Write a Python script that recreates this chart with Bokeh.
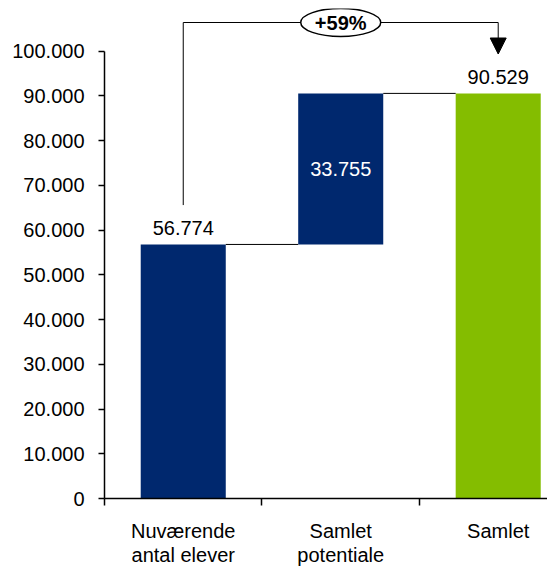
from bokeh.plotting import figure
from bokeh.models import Range1d, FixedTicker, Arrow, NormalHead
from bokeh.core.properties import value
from bokeh.embed import file_html
from bokeh.resources import INLINE

# ---- data ----
categories = ["Nuværende\nantal elever", "Samlet\npotentiale", "Samlet"]
current = 56774
potential = 33755
total = 90529
y_ticks = [0, 10000, 20000, 30000, 40000, 50000, 60000, 70000, 80000, 90000, 100000]
y_tick_labels = ["0", "10.000", "20.000", "30.000", "40.000", "50.000",
                 "60.000", "70.000", "80.000", "90.000", "100.000"]

NAVY = "#00286E"
GREEN = "#84BD00"
FONT = value("Liberation Sans")

def fmt(v):
    return f"{v:,}".replace(",", ".")

xs = [0, 1, 2]
bottoms = [0, current, 0]
tops = [current, current + potential, total]
colors = [NAVY, NAVY, GREEN]
bw = 0.54

p = figure(width=547, height=568, output_backend="svg", toolbar_location=None,
           x_range=Range1d(-0.5, 2.313), y_range=Range1d(0, 109500),
           min_border_left=104, min_border_right=0, min_border_top=8,
           min_border_bottom=70)
p.outline_line_color = None
p.xgrid.visible = False
p.ygrid.visible = False
p.background_fill_color = "white"
p.border_fill_color = "white"

p.vbar(x=xs, bottom=bottoms, top=tops, width=bw, fill_color=colors, line_color=None)

# connectors
p.segment(x0=[xs[0] + bw / 2, xs[1] + bw / 2], x1=[xs[1] - bw / 2, xs[2] - bw / 2],
          y0=[current, current + potential], y1=[current, current + potential],
          line_color="black", line_width=1)

# value labels
p.text(x=[xs[0], xs[2]], y=[current, total], text=[fmt(current), fmt(total)],
       text_align="center", text_baseline="bottom", y_offset=-9,
       text_font=FONT, text_font_size="20px", text_color="black")
p.text(x=[xs[1]], y=[current + potential / 2], text=[fmt(potential)],
       text_align="center", text_baseline="middle",
       text_font=FONT, text_font_size="20px", text_color="white")

# growth bracket
bracket_y = 106370
bracket_bottom = current + 8800
arrow_tip = 99330
p.line(x=[xs[0], xs[0], xs[2]], y=[bracket_bottom, bracket_y, bracket_y],
       line_color="black", line_width=1)
p.add_layout(Arrow(x_start=xs[2], y_start=bracket_y, x_end=xs[2], y_end=arrow_tip,
                   line_color="black", line_width=1,
                   end=NormalHead(size=16, fill_color="black", line_color="black")))
pct = round((total / current - 1) * 100)
p.ellipse(x=[xs[1]], y=[bracket_y], width=80, height=28,
          width_units="screen", height_units="screen",
          fill_color="white", line_color="black", line_width=1.5)
p.text(x=[xs[1]], y=[bracket_y], text=[f"+{pct}%"], text_align="center",
       text_baseline="middle", text_font=FONT, text_font_size="20px",
       text_font_style="bold", text_color="black")

# axes
xa = p.xaxis[0]
xa.ticker = FixedTicker(ticks=xs, minor_ticks=[-0.5, 0.5, 1.5])
xa.major_label_overrides = {x: c for x, c in zip(xs, categories)}
xa.major_tick_out = 0
xa.major_tick_in = 0
xa.minor_tick_out = 7
xa.minor_tick_in = 0
xa.minor_tick_line_color = "black"
xa.minor_tick_line_width = 1.5
xa.axis_line_width = 1.5
xa.axis_line_color = "black"
xa.major_label_standoff = 14
xa.major_label_text_font = "Liberation Sans"
xa.major_label_text_font_size = "20px"
xa.major_label_text_line_height = 1.1
xa.major_label_text_color = "black"

ya = p.yaxis[0]
ya.ticker = FixedTicker(ticks=y_ticks, minor_ticks=[])
ya.major_label_overrides = {t: l for t, l in zip(y_ticks, y_tick_labels)}
ya.bounds = (y_ticks[0], y_ticks[-1])
ya.major_tick_out = 6
ya.major_tick_in = 0
ya.major_tick_line_width = 1.5
ya.major_tick_line_color = "black"
ya.axis_line_width = 1.5
ya.axis_line_color = "black"
ya.major_label_standoff = 14
ya.major_label_text_font = "Liberation Sans"
ya.major_label_text_font_size = "20px"
ya.major_label_text_color = "black"

open("out.html", "w").write(file_html(p, INLINE))
